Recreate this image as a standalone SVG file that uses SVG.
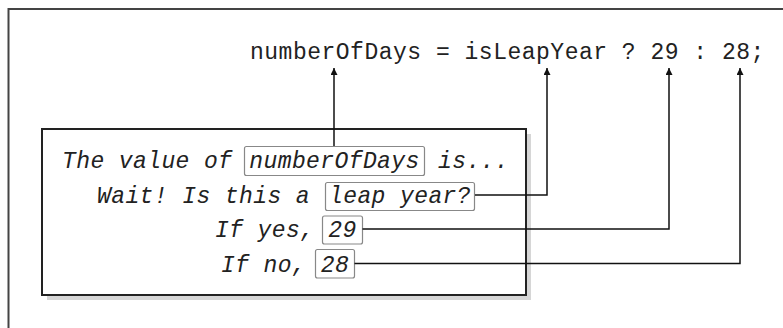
<svg xmlns="http://www.w3.org/2000/svg" width="783" height="328" viewBox="0 0 783 328">
<style>
.code{font-family:"Liberation Mono","DejaVu Sans Mono",monospace;font-size:23px;fill:#222;letter-spacing:0.5px}
.it{font-family:"Liberation Mono","DejaVu Sans Mono",monospace;font-size:23px;font-style:italic;fill:#222;letter-spacing:0.4px}
.tag{fill:#fff;stroke:#888;stroke-width:1.2}
.conn{fill:none;stroke:#111;stroke-width:1.5}
</style>
<defs>
<marker id="arr" viewBox="0 0 10 10" refX="10" refY="5" markerWidth="9" markerHeight="7" markerUnits="userSpaceOnUse" orient="auto">
<path d="M0,0 L10,5 L0,10 Z" fill="#111"/>
</marker>
</defs>
<rect x="8.5" y="9" width="800" height="340" fill="#fff" stroke="#444" stroke-width="2"/>
<g id="code">
<text class="code" x="250" y="59">numberOfDays = isLeapYear ? 29 : 28;</text>
</g>
<g id="box">
<rect x="47" y="134" width="484" height="166" fill="#d6d6d6"/>
<rect x="42" y="129" width="484" height="166" fill="#fff" stroke="#222" stroke-width="2"/>
</g>
<g id="line1">
<text class="it" x="62" y="168">The value of</text>
<rect class="tag" x="244.5" y="146.5" width="180" height="29" rx="2"/>
<text class="it" x="334.5" y="168" text-anchor="middle">numberOfDays</text>
<text class="it" x="438" y="168">is...</text>
</g>
<g id="line2">
<text class="it" x="97" y="203">Wait! Is this a</text>
<rect class="tag" x="325.5" y="182.5" width="149" height="28" rx="2"/>
<text class="it" x="400" y="203" text-anchor="middle">leap year?</text>
</g>
<g id="line3">
<text class="it" x="215" y="237">If yes,</text>
<rect class="tag" x="322.5" y="216" width="40" height="28" rx="2"/>
<text class="it" x="342.5" y="237" text-anchor="middle">29</text>
</g>
<g id="line4">
<text class="it" x="221" y="271.5">If no,</text>
<rect class="tag" x="315.5" y="249.5" width="39" height="28.5" rx="2"/>
<text class="it" x="335" y="271.5" text-anchor="middle">28</text>
</g>
<g id="connectors">
<path class="conn" d="M334 146 V68" marker-end="url(#arr)"/>
<path class="conn" d="M475 195 H547 V68" marker-end="url(#arr)"/>
<path class="conn" d="M362.5 229 H669 V68" marker-end="url(#arr)"/>
<path class="conn" d="M354.5 263.5 H740 V68" marker-end="url(#arr)"/>
</g>
</svg>
